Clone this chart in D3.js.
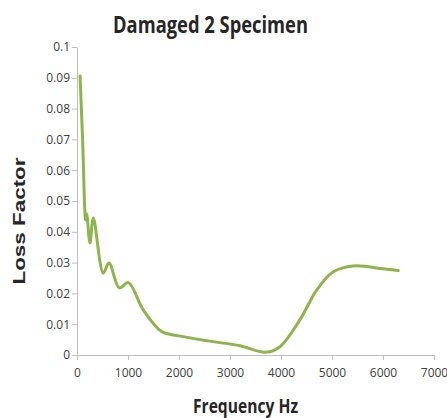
<!DOCTYPE html>
<html><head><meta charset="utf-8">
<script src="https://cdn.jsdelivr.net/npm/d3@7"></script>
<style>body{margin:0;background:#fff;}svg{display:block;}</style>
</head><body>
<script>
const freq = [60, 110, 170, 190, 255, 320, 515, 627, 830, 1006, 1300, 1660, 2000, 2600, 3196, 3700, 3980, 4370, 4700, 5026, 5418, 6000, 6300];
const lossFactor = [0.0906, 0.0698, 0.0438, 0.0458, 0.0364, 0.0445, 0.0266, 0.0299, 0.0218, 0.0235, 0.0146, 0.0076, 0.0062, 0.0045, 0.0030, 0.0009, 0.0027, 0.0114, 0.0211, 0.0270, 0.0289, 0.0280, 0.0274];
const xTicks = [0, 1000, 2000, 3000, 4000, 5000, 6000, 7000];
const yTicks = [0, 0.01, 0.02, 0.03, 0.04, 0.05, 0.06, 0.07, 0.08, 0.09, 0.1];
const title = "Damaged 2 Specimen";
const xLabel = "Frequency Hz";
const yLabel = "Loss Factor";

const W = 447, H = 418;
const svg = d3.select("body").append("svg").attr("width", W).attr("height", H);
const x = d3.scaleLinear().domain([0, 7000]).range([77, 434]);
const y = d3.scaleLinear().domain([0, 0.1]).range([355, 47]);
const axisColor = "#bfbfbf", textColor = "#404040";

const xa = svg.append("g").attr("transform", "translate(0,355)")
  .call(d3.axisBottom(x).tickValues(xTicks).tickSize(5).tickSizeOuter(0).tickFormat(d3.format("d")));
const ya = svg.append("g").attr("transform", "translate(77,0)")
  .call(d3.axisLeft(y).tickValues(yTicks).tickSize(5).tickSizeOuter(0).tickFormat(d => d === 0 ? "0" : d3.format("")(+d.toFixed(2))));
[xa, ya].forEach(g => {
  g.select(".domain").attr("stroke", axisColor);
  g.selectAll(".tick line").attr("stroke", axisColor);
  g.selectAll(".tick text").attr("fill", textColor).style("font-family", "'Liberation Sans Narrow','Open Sans',sans-serif").style("font-size", "12px");
});
xa.selectAll(".tick text").attr("dy", "1.2em");
ya.selectAll(".tick text").attr("x", -7);

svg.append("path")
  .datum(freq.map((f, i) => [f, lossFactor[i]]))
  .attr("fill", "none").attr("stroke", "#8fb44f").attr("stroke-width", 3)
  .attr("stroke-linejoin", "round").attr("stroke-linecap", "round")
  .attr("d", d3.line().x(d => x(d[0])).y(d => y(d[1])).curve(d3.curveCatmullRom.alpha(0.5)));

svg.append("text").text(title).attr("x", 210.5).attr("y", 33).attr("text-anchor", "middle")
  .attr("fill", "#262626").style("font-family", "'Open Sans',sans-serif").style("font-weight", "bold").style("font-size", "23px")
  .attr("textLength", 195).attr("lengthAdjust", "spacingAndGlyphs");
svg.append("text").text(xLabel).attr("x", 245.5).attr("y", 413).attr("text-anchor", "middle")
  .attr("fill", "#262626").style("font-family", "'Open Sans',sans-serif").style("font-weight", "bold").style("font-size", "20px")
  .attr("textLength", 105).attr("lengthAdjust", "spacingAndGlyphs");
svg.append("text").text(yLabel).attr("transform", "translate(25,221) rotate(-90)").attr("text-anchor", "middle")
  .attr("fill", "#262626").style("font-family", "'Liberation Sans',Arial,sans-serif").style("font-weight", "bold").style("font-size", "17px")
  .attr("textLength", 127).attr("lengthAdjust", "spacingAndGlyphs");
</script>
</body></html>
